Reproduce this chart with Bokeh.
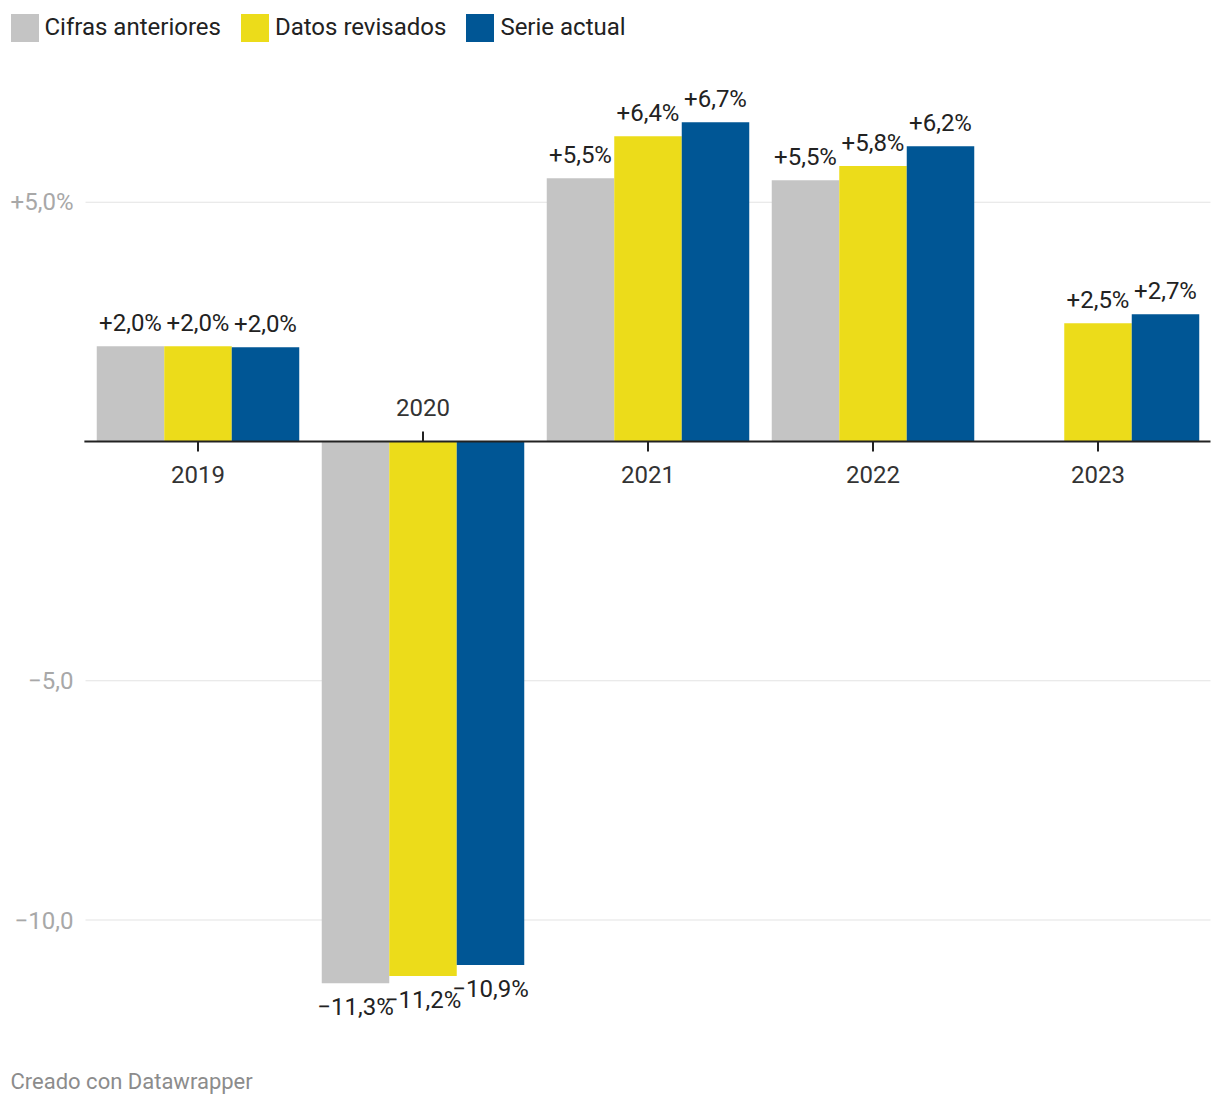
import math
from bokeh.plotting import figure
from bokeh.models import ColumnDataSource, Legend, LegendItem, Range1d
from bokeh.transform import dodge
from bokeh.embed import file_html
from bokeh.resources import INLINE
from bokeh.core.properties import value

# ---- data ----
years = ["2019", "2020", "2021", "2022", "2023"]
series = ["Cifras anteriores", "Datos revisados", "Serie actual"]
cifras = [1.99, -11.32, 5.50, 5.46, float("nan")]
revisados = [1.99, -11.17, 6.38, 5.76, 2.47]
actual = [1.97, -10.94, 6.67, 6.17, 2.66]
colors = ["#c4c4c4", "#ecdc1a", "#005695"]
y_ticks = [5, -5, -10]
y_tick_labels = ["+5,0%", "\u22125,0", "\u221210,0"]
footer = "Creado con Datawrapper"

# ---- layout constants ----
W, H = 1220, 1106
PX_X = 225.0     # pixels per category
PX_Y = 47.85     # pixels per percentage point
X0 = 197.5       # pixel of first category centre
Y0 = 441.0       # pixel of zero line
FONT = "Roboto"

x_start, x_end = -X0 / PX_X, (W - X0) / PX_X
y_start, y_end = -(H - Y0) / PX_Y, Y0 / PX_Y

p = figure(width=W, height=H, x_range=Range1d(x_start, x_end), y_range=Range1d(y_start, y_end),
           output_backend="svg", toolbar_location=None, x_axis_location=None, y_axis_location=None,
           min_border=0)
p.outline_line_color = None
p.grid.visible = False
p.background_fill_color = "white"

n = len(years)
left, right = -0.5, n - 0.5

# gridlines
p.segment(x0=[left] * len(y_ticks), x1=[right] * len(y_ticks), y0=y_ticks, y1=y_ticks,
          line_color="#e3e3e3", line_width=1)
p.text(x=[left] * len(y_ticks), y=y_ticks, text=y_tick_labels, x_offset=-12,
       text_align="right", text_baseline="middle", text_color="#a8a8a8",
       text_font=value(FONT), text_font_size="24px")

# bars
idx = list(range(n))
src = ColumnDataSource(dict(idx=idx, c0=cifras, c1=revisados, c2=actual))
cols = ["c0", "c1", "c2"]
offsets = [-0.3, 0.0, 0.3]
renderers = []
for k, col in enumerate(cols):
    r = p.vbar(x=dodge("idx", offsets[k]), top=col, bottom=0, width=0.3, source=src,
               fill_color=colors[k], line_color=None)
    renderers.append(r)

# value labels
def fmt(v):
    s = f"{v:+.1f}".replace(".", ",").replace("-", "\u2212")
    return s + "%"

lx, ly, lt, loff = [], [], [], []
for k, vals in enumerate([cifras, revisados, actual]):
    for i, v in enumerate(vals):
        if v is None or (isinstance(v, float) and math.isnan(v)):
            continue
        lx.append(i + offsets[k])
        ly.append(v)
        lt.append(fmt(v))
        loff.append(-23 if v >= 0 else 24)
lsrc = ColumnDataSource(dict(x=lx, y=ly, t=lt, off=loff))
p.text(x="x", y="y", text="t", y_offset="off", source=lsrc, text_align="center",
       text_baseline="alphabetic", text_color="#222222", text_font=value(FONT),
       text_font_size="24px")

# zero line
p.segment(x0=[left - 0.005], x1=[right], y0=[0], y1=[0], line_color="#222222", line_width=2)

# category ticks and labels
tick_len = 10 / PX_Y
tx, ty1, coff = [], [], []
for i in range(n):
    vals = [v for v in (cifras[i], revisados[i], actual[i]) if not math.isnan(v)]
    neg = max(vals) < 0
    tx.append(i)
    ty1.append(tick_len if neg else -tick_len)
    coff.append(-34 if neg else 33)
csrc = ColumnDataSource(dict(x=tx, y1=ty1, t=years, off=coff, y0=[0] * n))
p.segment(x0="x", x1="x", y0="y0", y1="y1", source=csrc, line_color="#222222", line_width=2)
p.text(x="x", y="y0", text="t", y_offset="off", source=csrc, text_align="center",
       text_baseline="middle", text_color="#333333", text_font=value(FONT),
       text_font_size="24px")

# footer
p.text(x=[x_start + 10 / PX_X], y=[y_start + (H - 1081) / PX_Y], text=[footer],
       text_align="left", text_baseline="middle", text_color="#8c8c8c",
       text_font=value(FONT), text_font_size="22px")

# legend (bar legend glyphs are inset by 10% of the glyph area)
legend = Legend(items=[LegendItem(label=s, renderers=[r]) for s, r in zip(series, renderers)],
                orientation="horizontal", location=(6.5, H - 44.5), padding=0, margin=0,
                spacing=16, glyph_width=35, glyph_height=35, label_standoff=3,
                label_text_font=FONT, label_text_font_size="24px", label_text_color="#222222",
                label_text_baseline="middle",
                border_line_color=None, background_fill_alpha=0)
p.add_layout(legend, "center")

open("out.html", "w").write(file_html(p, INLINE))
